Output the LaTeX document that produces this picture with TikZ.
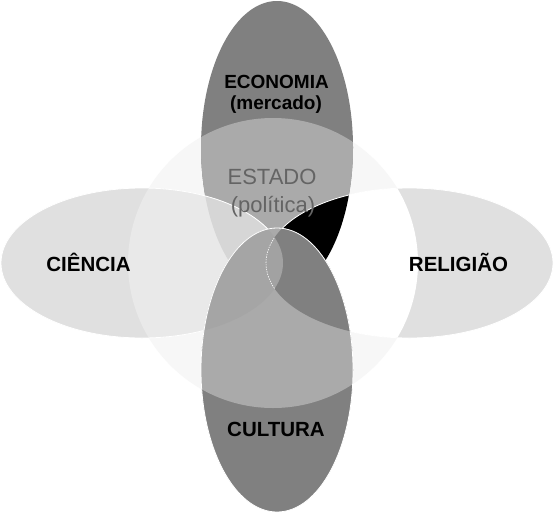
\documentclass[tikz,border=0pt]{standalone}
\usepackage{fontspec}
\setmainfont{Liberation Sans}
\definecolor{dk}{HTML}{808080}
\definecolor{md}{HTML}{AAAAAA}
\definecolor{lt}{HTML}{E0E0E0}
\definecolor{ltin}{HTML}{E9E9E9}
\definecolor{circ}{HTML}{F7F7F7}
\definecolor{lefttop}{HTML}{D6D6D6}
\definecolor{leftbot}{HTML}{A5A5A5}
\definecolor{lens}{HTML}{A2A2A2}
\definecolor{estado}{HTML}{646464}
\begin{document}
\begin{tikzpicture}[x=1pt,y=-1pt,
  lbl/.style={font=\fontsize{19}{22}\selectfont\bfseries, text=black, inner sep=0pt, anchor=base},
  biglbl/.style={lbl, font=\fontsize{20.5}{24}\selectfont\bfseries},
  stlbl/.style={font=\fontsize{22}{26}\selectfont, text=estado, inner sep=0pt, anchor=base},
  edge/.style={draw=white, line width=0.8pt}]
\useasboundingbox (0,0) rectangle (556,514);
\def\TopE{(277,147.5) ellipse [x radius=76pt, y radius=146.5pt]}
\def\BotE{(277,370) ellipse [x radius=76pt, y radius=142pt]}
\def\LeftE{(142,263) ellipse [x radius=141pt, y radius=75pt]}
\def\RightE{(409.5,263) ellipse [x radius=143.5pt, y radius=75pt]}
\def\Circ{(273,263) circle [radius=145pt]}
\fill[white] (0,0) rectangle (556,514);
% circle (ESTADO)
\fill[circ] \Circ;
% top ellipse (ECONOMIA)
\fill[dk] \TopE;
\begin{scope}\clip \Circ; \fill[md] \TopE; \end{scope}
% left ellipse (CIENCIA)
\fill[lt] \LeftE;
\begin{scope}\clip \Circ; \fill[ltin] \LeftE; \clip \TopE; \fill[lefttop] \LeftE; \end{scope}
\path[edge] \LeftE;
% right ellipse (RELIGIAO)
\fill[lt] \RightE;
\begin{scope}\clip \Circ; \fill[white] \RightE; \clip \TopE; \fill[black] \RightE; \end{scope}
\path[edge] \RightE;
% bottom ellipse (CULTURA)
\fill[dk] \BotE;
\begin{scope}\clip \Circ; \fill[md] \BotE;
  \begin{scope}\clip \LeftE; \fill[leftbot] \BotE; \end{scope}
  \begin{scope}\clip \RightE; \fill[dk] \BotE; \clip \LeftE; \fill[lens] \BotE; \end{scope}
\end{scope}
\path[edge] \BotE;
\begin{scope}\clip \BotE; \clip \LeftE;
  \draw[white, line width=0.6pt, dash pattern=on 1.5pt off 1pt] \RightE;
\end{scope}
% labels
\node[lbl] (eco) at (276.5,88) {ECONOMIA};
\node[lbl] (mer) at (276,109) {(mercado)};
\node[stlbl] (est) at (272,184) {ESTADO};
\node[stlbl] (pol) at (273,212.5) {(política)};
\node[biglbl] (cie) at (88.5,271) {CIÊNCIA};
\node[biglbl] (rel) at (458.5,271) {RELIGIÃO};
\node[biglbl] (cul) at (276,436) {CULTURA};
\end{tikzpicture}
\end{document}
